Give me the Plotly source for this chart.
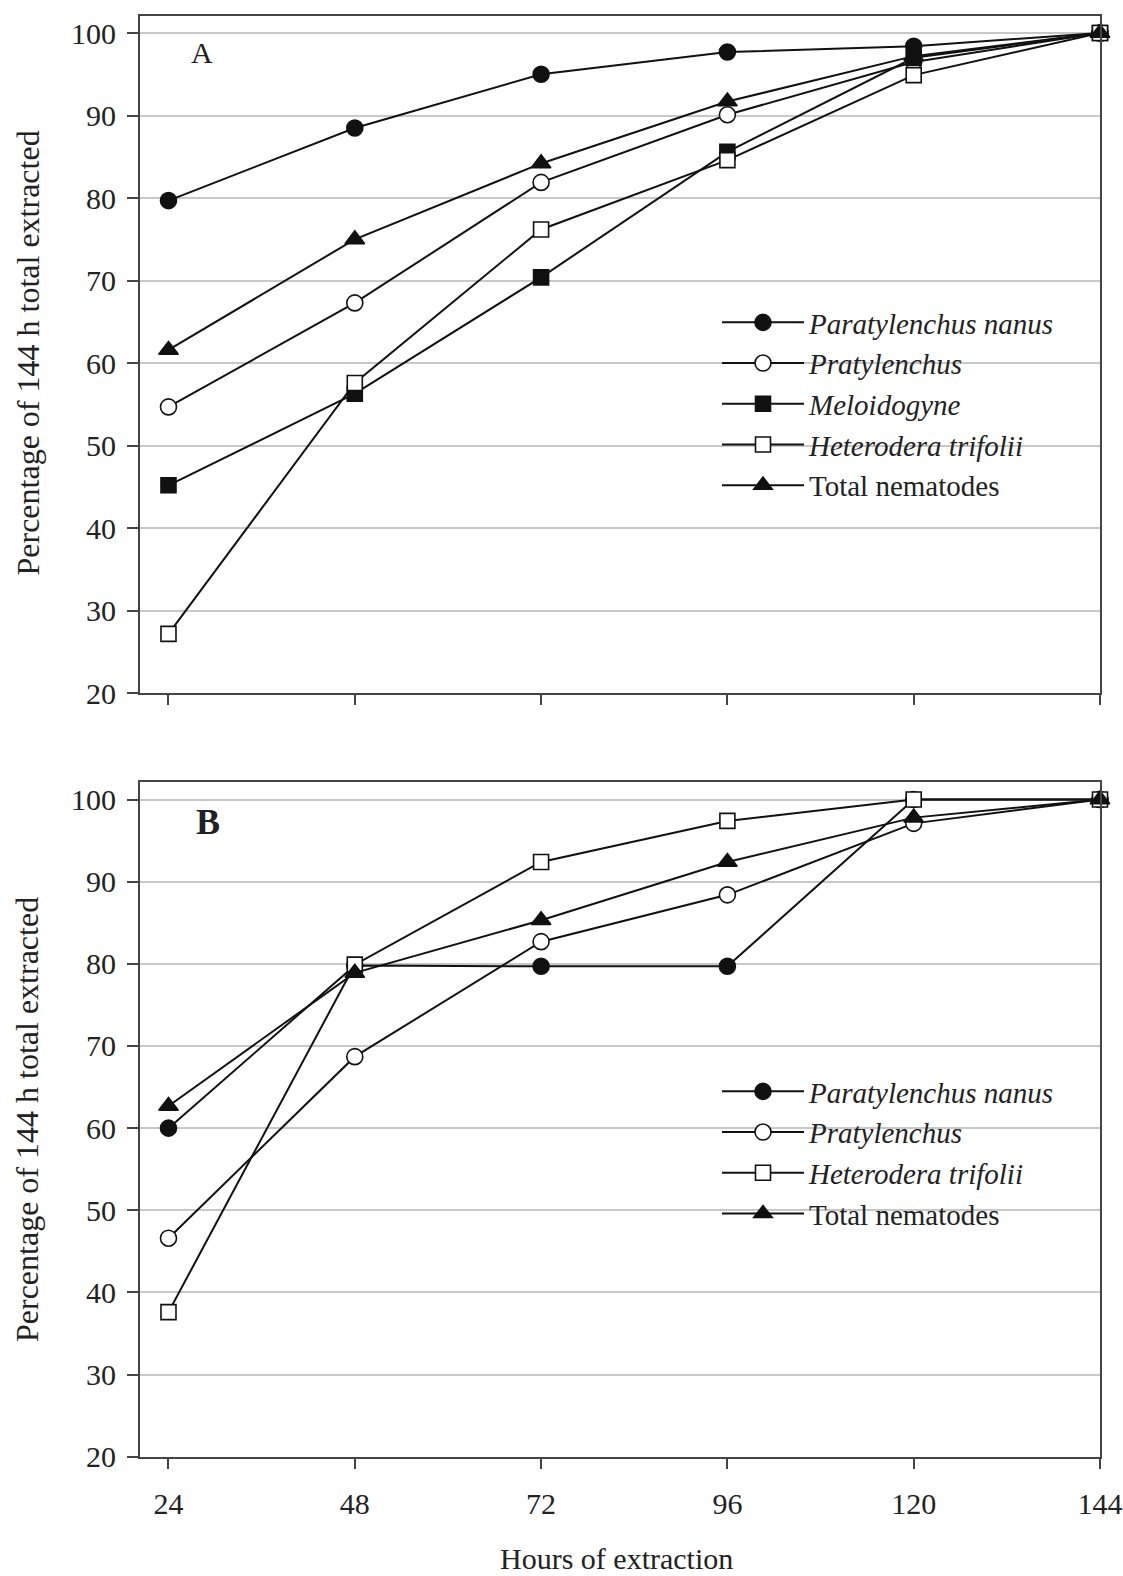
import plotly.graph_objects as go

# ---------------- data ----------------
hours = [24, 48, 72, 96, 120, 144]
y_ticks = [20, 30, 40, 50, 60, 70, 80, 90, 100]

# Panel A
a_paratylenchus = [79.7, 88.5, 95.0, 97.7, 98.4, 100]
a_pratylenchus = [54.7, 67.3, 81.9, 90.1, 96.5, 100]
a_meloidogyne = [45.2, 56.3, 70.4, 85.6, 97.0, 100]
a_heterodera = [27.2, 57.6, 76.2, 84.6, 94.9, 100]
a_total = [61.6, 75.0, 84.2, 91.7, 97.2, 100]

# Panel B
b_paratylenchus = [60.0, 79.8, 79.7, 79.7, 100, 100]
b_pratylenchus = [46.6, 68.7, 82.7, 88.4, 97.1, 100]
b_heterodera = [37.6, 79.9, 92.4, 97.4, 100, 100]
b_total = [62.7, 78.9, 85.3, 92.4, 97.8, 100]

names = {
    "para": "<i>Paratylenchus nanus</i>",
    "prat": "<i>Pratylenchus</i>",
    "melo": "<i>Meloidogyne</i>",
    "hete": "<i>Heterodera trifolii</i>",
    "total": "Total nematodes",
}

styles = {
    "para": dict(symbol="circle", color="#111111", size=16),
    "prat": dict(symbol="circle", color="white", size=16),
    "melo": dict(symbol="square", color="#111111", size=15),
    "hete": dict(symbol="square", color="white", size=15),
    "total": dict(symbol="triangle-up", color="#111111", size=17),
}

panel_a = [("para", a_paratylenchus), ("prat", a_pratylenchus), ("melo", a_meloidogyne),
           ("hete", a_heterodera), ("total", a_total)]
panel_b = [("para", b_paratylenchus), ("prat", b_pratylenchus),
           ("hete", b_heterodera), ("total", b_total)]

FONT = "Liberation Serif, Times New Roman, serif"
W, H = 1123, 1576
L, R = 140, 23

fig = go.Figure()


def add_panel(series, xa, ya, leg):
    for key, vals in series:
        st = styles[key]
        fig.add_trace(go.Scatter(
            x=hours, y=vals, name=names[key], mode="lines+markers",
            xaxis=xa, yaxis=ya, legend=leg,
            cliponaxis=False,
            line=dict(color="#111111", width=2),
            marker=dict(symbol=st["symbol"], size=st["size"], color=st["color"],
                        line=dict(color="#111111", width=1.6)),
        ))


add_panel(panel_a, "x", "y", "legend")
add_panel(panel_b, "x2", "y2", "legend2")


def px_to_py(p):
    return 1 - p / H


x_common = dict(
    range=[20.33, 144], tickvals=hours, ticks="outside", ticklen=10, tickwidth=2,
    tickcolor="#444444", showline=True, linecolor="#444444", linewidth=2, mirror=True,
    showgrid=False, zeroline=False, automargin=False,
    tickfont=dict(family=FONT, size=30, color="#222222"),
)
y_common = dict(
    range=[20, 102.1], tickvals=y_ticks, ticks="outside", ticklen=11, tickwidth=2,
    tickcolor="#444444", showline=True, linecolor="#444444", linewidth=2, mirror=True,
    showgrid=True, gridcolor="#c8c8c8", gridwidth=1.5, zeroline=False, automargin=False,
    tickfont=dict(family=FONT, size=30, color="#222222"), ticklabelstandoff=5,
)

legend_common = dict(
    font=dict(family=FONT, size=29, color="#222222"),
    bgcolor="rgba(0,0,0,0)", borderwidth=0, itemwidth=82,
    xanchor="left", yanchor="top", traceorder="normal",
    itemclick=False, itemdoubleclick=False,
)

pw = W - L - R
fig.update_layout(
    width=W, height=H,
    margin=dict(l=L, r=R, t=0, b=0, autoexpand=False),
    paper_bgcolor="white", plot_bgcolor="white",
    font=dict(family=FONT, size=27, color="#222222"),
    xaxis=dict(x_common, anchor="y", domain=[0, 1], showticklabels=False),
    yaxis=dict(y_common, anchor="x", domain=[px_to_py(693.3), px_to_py(15.7)]),
    xaxis2=dict(x_common, anchor="y2", domain=[0, 1], showticklabels=True,
                ticklabelstandoff=9),
    yaxis2=dict(y_common, anchor="x2", domain=[px_to_py(1456.7), px_to_py(782.3)]),
    legend=dict(legend_common, x=(717 - L) / pw, y=px_to_py(297)),
    legend2=dict(legend_common, x=(717 - L) / pw, y=px_to_py(1066)),
    showlegend=True,
)

annotations = [
    dict(text="Percentage of 144 h total extracted", x=(27 - L) / pw, y=px_to_py(353.5),
         textangle=-90, font=dict(size=32)),
    dict(text="Percentage of 144 h total extracted", x=(27 - L) / pw, y=px_to_py(1120),
         textangle=-90, font=dict(size=32)),
    dict(text="Hours of extraction", x=(616 - L) / pw, y=px_to_py(1558), font=dict(size=30)),
    dict(text="A", x=(201.7 - L) / pw, y=px_to_py(53), font=dict(size=30)),
    dict(text="<b>B</b>", x=(208 - L) / pw, y=px_to_py(822), font=dict(size=36)),
]
for a in annotations:
    a.update(xref="paper", yref="paper", showarrow=False, xanchor="center", yanchor="middle")
    a["font"] = dict(family=FONT, color="#222222", **a["font"])
fig.update_layout(annotations=annotations)

fig.write_html("out.html")
